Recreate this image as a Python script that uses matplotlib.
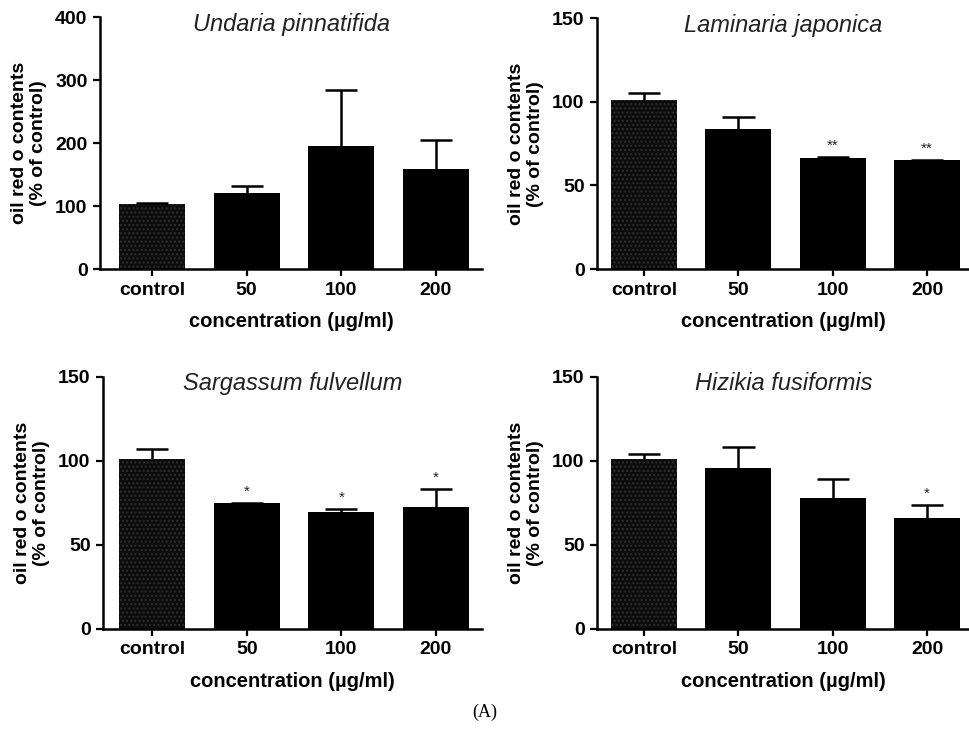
import numpy as np
import matplotlib
matplotlib.use("Agg")
import matplotlib.pyplot as plt

plt.rcParams['font.family'] = ['Liberation Sans', 'DejaVu Sans']
plt.rcParams['hatch.linewidth'] = 1.0

# data
groups = ['control', '50', '100', '200']

titles = ['Undaria pinnatifida', 'Laminaria japonica',
          'Sargassum fulvellum', 'Hizikia fusiformis']

undaria_mean = [103, 121, 196, 158]
undaria_sem = [1, 11, 88, 47]
undaria_stars = ['', '', '', '']

laminaria_mean = [101, 84, 66.6, 65]
laminaria_sem = [4.5, 7, 0.5, 0]
laminaria_stars = ['', '', '**', '**']

sargassum_mean = [101, 74.7, 69.4, 72.7]
sargassum_sem = [5.8, 0.3, 2.1, 10.7]
sargassum_stars = ['', '*', '*', '*']

hizikia_mean = [101, 96, 77.7, 66]
hizikia_sem = [3, 12, 11.5, 8]
hizikia_stars = ['', '', '', '*']

ymax = [400, 150, 150, 150]
yticks = [[0, 100, 200, 300, 400], [0, 50, 100, 150], [0, 50, 100, 150], [0, 50, 100, 150]]

means = [undaria_mean, laminaria_mean, sargassum_mean, hizikia_mean]
sems = [undaria_sem, laminaria_sem, sargassum_sem, hizikia_sem]
stars = [undaria_stars, laminaria_stars, sargassum_stars, hizikia_stars]

# axes boxes [left, bottom, width, height] in figure fraction
boxes = [[0.1031, 0.633, 0.394, 0.3438],
         [0.6155, 0.633, 0.384, 0.3420],
         [0.1062, 0.1419, 0.391, 0.3442],
         [0.6155, 0.1419, 0.384, 0.3442]]
xlims = [(-0.55, 3.49), (-0.50, 3.45), (-0.52, 3.49), (-0.50, 3.45)]

fig = plt.figure(figsize=(9.7, 7.33), dpi=100)

for i in range(4):
    ax = fig.add_axes(boxes[i])
    x = np.arange(len(groups))
    m = np.array(means[i])
    s = np.array(sems[i])
    bars = ax.bar(x, m, width=0.7, color='black', zorder=2)
    # control bar has a dark dotted fill
    bars[0].set_facecolor('#0c0c0c')
    bars[0].set_hatch('....')
    bars[0].set_edgecolor('#2e2e2e')
    bars[0].set_linewidth(0)

    # upper error bars only (one cap at the top)
    ax.vlines(x, m, m + s, color='black', linewidth=1.8, zorder=3)
    ax.hlines(m + s, x - 0.17, x + 0.17, color='black', linewidth=1.8, zorder=3)

    for xi, top, st in zip(x, m + s, stars[i]):
        if st:
            ax.annotate(st, (xi, top), xytext=(0, 3), textcoords='offset points',
                        ha='center', va='bottom', fontsize=11, color='#222222')

    ax.set_xlim(*xlims[i])
    ax.set_ylim(0, ymax[i])
    ax.set_yticks(yticks[i])
    ax.set_xticks(x)
    ax.set_xticklabels(groups)
    for lab in ax.get_xticklabels() + ax.get_yticklabels():
        lab.set_fontweight('bold')
        lab.set_fontsize(14)
    ax.tick_params(axis='both', direction='out', width=1.6, length=5, pad=4)
    ax.spines['top'].set_visible(False)
    ax.spines['right'].set_visible(False)
    ax.spines['left'].set_linewidth(1.8)
    ax.spines['bottom'].set_linewidth(1.8)

    ax.set_ylabel('oil red o contents\n(% of control)', fontsize=14, fontweight='bold',
                  linespacing=1.15, labelpad=6)
    ax.set_xlabel('concentration (\u00b5g/ml)', fontsize=14.5, fontweight='bold', labelpad=10)
    ax.text(0.5, 0.972, titles[i], transform=ax.transAxes, ha='center', va='center',
            fontsize=17, style='italic', color='#222222')

fig.text(0.5, 1 - 712 / 733, '(A)', ha='center', va='center', fontsize=13,
         family=['Liberation Serif', 'DejaVu Serif'])

fig.savefig('out.png', dpi=100)
